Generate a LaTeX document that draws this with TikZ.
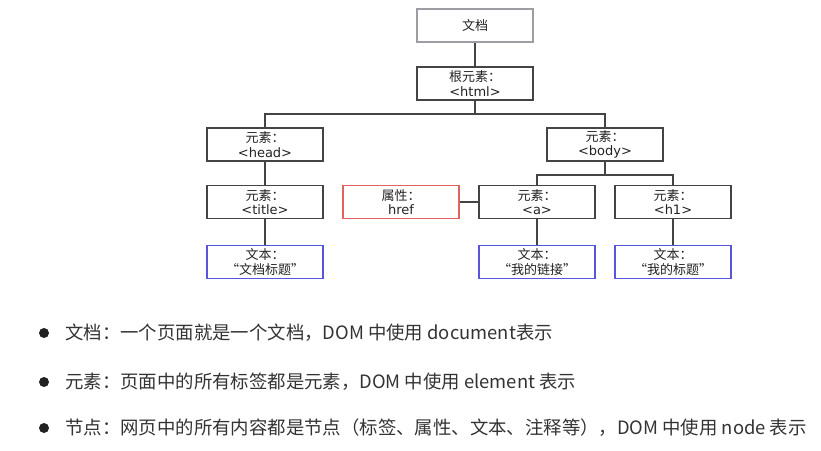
\documentclass[tikz,border=0pt]{standalone}
\usepackage{fontspec}
\setmainfont{Noto Sans CJK SC}
\newfontfamily\latinf{DejaVu Sans}
\definecolor{boxline}{HTML}{444444}
\definecolor{docline}{HTML}{A09CA4}
\definecolor{attrline}{HTML}{E06262}
\definecolor{textline}{HTML}{5555DD}
\definecolor{ink}{HTML}{222222}
\definecolor{bodyink}{HTML}{333333}
\tikzset{
  treebox/.style={draw=boxline, line width=1.4pt, minimum width=116pt, minimum height=33pt,
    inner sep=0pt, align=center, text=ink, font=\fontsize{13}{14.5}\selectfont},
  docbox/.style={treebox, draw=docline},
  attrbox/.style={treebox, draw=attrline},
  textbox/.style={treebox, draw=textline},
  link/.style={draw=boxline, line width=1.4pt},
  dot/.style={circle, fill=ink, inner sep=0pt, minimum size=10pt},
  item/.style={anchor=west, inner sep=0pt, text=bodyink, font=\fontsize{18.4}{22}\selectfont},
}
\begin{document}
\begin{tikzpicture}[x=1pt, y=-1pt]
\useasboundingbox (0,0) rectangle (821,450);

% tree of nodes
\node[docbox]  (doc)   at (475,25.5) {文档};
\node[treebox] (root)  at (475,83.5) {根元素：\\{\latinf <html>}};
\node[treebox] (head)  at (265,144.5) {元素：\\{\latinf <head>}};
\node[treebox] (body)  at (605,144.5) {元素：\\{\latinf <body>}};
\node[treebox] (title) at (265,202) {元素：\\{\latinf <title>}};
\node[attrbox] (href)  at (401,202) {属性：\\{\latinf href}};
\node[treebox] (a)     at (537,202) {元素：\\{\latinf <a>}};
\node[treebox] (h1)    at (673,202) {元素：\\{\latinf <h1>}};
\node[textbox] (ttext) at (265,262) {文本：\\“文档标题”};
\node[textbox] (atext) at (537,262) {文本：\\“我的链接”};
\node[textbox] (htext) at (673,262) {文本：\\“我的标题”};

\coordinate (split1) at (475,114);
\coordinate (split2) at (605,175);

% connectors
\draw[link] (doc) -- (root);
\draw[link] (root) -- (split1);
\draw[link] (head.north) |- (split1) -| (body.north);
\draw[link] (head) -- (title);
\draw[link] (title) -- (ttext);
\draw[link] (body) -- (split2);
\draw[link] (a.north) |- (split2) -| (h1.north);
\draw[link] (href) -- (a);
\draw[link] (a) -- (atext);
\draw[link] (h1) -- (htext);

% bullet list
\node[dot] (b1) at (44,333) {};
\node[dot] (b2) at (44,382) {};
\node[dot] (b3) at (44,428) {};
\node[item] (t1) at (65,333) {文档：一个页面就是一个文档，DOM 中使用 document表示};
\node[item] (t2) at (65,382) {元素：页面中的所有标签都是元素，DOM 中使用 element 表示};
\node[item] (t3) at (65,428) {节点：网页中的所有内容都是节点（标签、属性、文本、注释等），DOM 中使用 node 表示};
\end{tikzpicture}
\end{document}
